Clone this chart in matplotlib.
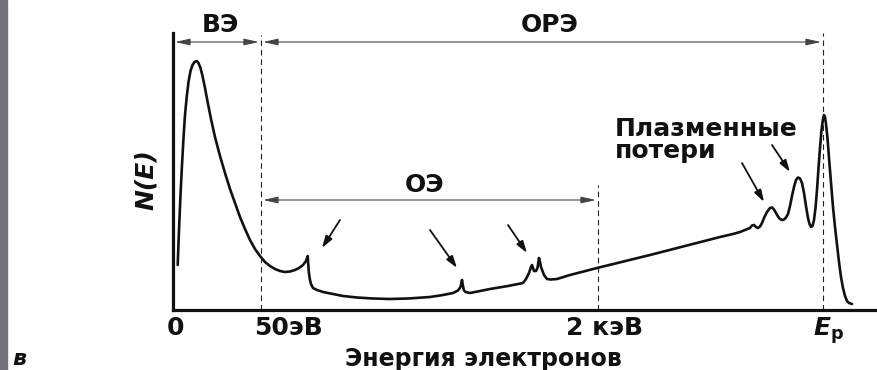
import matplotlib
matplotlib.use("Agg")
import matplotlib.pyplot as plt
from matplotlib.patches import Rectangle
from matplotlib.transforms import ScaledTranslation

plt.rcParams['font.family'] = ['DejaVu Sans']
plt.rcParams['mathtext.fontset'] = 'custom'
plt.rcParams['mathtext.it'] = 'DejaVu Sans:italic:bold'
plt.rcParams['mathtext.rm'] = 'DejaVu Sans:bold'

# ---- data (arbitrary units) ----
energy = [4.7, 6, 7.5, 9, 10.5, 12, 13.7, 15.5, 17.5, 19.5, 21.5, 23.7, 25.5, 27.5, 29.5,
          32, 35, 38, 42, 47, 52, 57, 62, 67, 72, 77, 82, 87, 92, 97, 102, 107, 112, 117,
          122, 126, 130, 133, 134.7, 135.2, 135.8, 136.8, 138, 140, 144, 150, 160, 170,
          184, 200, 217, 235, 257, 270, 280, 285, 287.5, 289, 289.8, 290.8, 292.5, 297,
          317, 335, 350, 353, 356, 358, 359, 360, 361, 363, 364.5, 366, 367, 368, 369.5,
          371, 374, 378, 384, 397, 424, 477, 547, 560, 567, 572, 577, 579, 581, 583, 585,
          587, 589, 591, 594, 597, 599, 601, 603, 605, 607, 609, 611, 613, 615, 617, 619,
          621, 623, 625, 627, 629, 631, 633, 635, 636.5, 638, 639.5, 641, 642.5, 644,
          645.5, 647, 648.5, 650, 651, 652, 653, 654.5, 656, 658, 660, 662, 664, 666, 668,
          670, 672, 674, 676, 679]
counts = [45, 80, 115, 145, 172, 195, 213, 228, 239, 245, 248, 249, 247, 242, 234,
          222, 206, 191, 173, 154, 137, 121, 107, 93, 81, 70, 61, 54, 48, 44, 41, 39, 38, 38.5,
          40, 42, 45, 49, 54, 47, 38, 31, 26, 22, 20, 18, 16, 14,
          12.5, 11.5, 11, 11.5, 13, 15, 17, 19.5, 23, 30, 25, 20, 18, 17,
          21, 24, 27, 31, 37, 43, 45, 42, 39, 39, 42, 52, 48, 43, 39,
          35, 31, 30.5, 31, 35, 42, 55, 73, 76, 78, 80, 82, 84.5, 85, 83, 82,
          83.5, 87, 92, 98, 102, 102.5, 100.5, 97, 93.5, 91, 90, 90.5, 92.5, 96, 104, 114,
          123, 130, 132.5, 131.5, 127, 117, 104, 92, 86, 83, 84, 90, 102, 120,
          142, 162, 180, 191, 195, 193, 186, 172, 152, 127, 103, 83, 65, 48, 33,
          22, 14, 9, 7, 6]

boundaries = [88, 425, 650]          # 50 eV, 2 keV, Ep
boundary_tops = [275, 125, 277]
tick_pos = [0, 88, 425, 650]
tick_labels = ['0', '50эВ', '2 кэВ', r'$E_{\mathrm{p}}$']
tick_shift_px = [2, 27, 6, 5]

regions = ['ВЭ', 'ОРЭ', 'ОЭ']
region_spans = [(2, 86), (90, 648), (90, 423)]
region_y = [268, 268, 110]
region_label_xy = [(47, 285), (377, 285), (252, 125)]

# annotation arrows: (start, end)
peak_arrows = [((167, 90), (149, 62)), ((257, 80), (284, 42)), ((335, 85), (354, 57)),
               ((569, 147), (591, 108)), ((599, 165), (617, 138))]

W, H = 877, 370
fig = plt.figure(figsize=(W / 100, H / 100), dpi=100)
fig.patch.set_facecolor('white')
fig.add_artist(Rectangle((0, 0), 7 / W, 1, transform=fig.transFigure,
                         color='#737076', zorder=0))

ax = fig.add_axes([173 / W, 60 / H, 704 / W, 277 / H])
ax.set_xlim(0, 704)
ax.set_ylim(0, 277)
for s in ['top', 'right']:
    ax.spines[s].set_visible(False)
for s in ['left', 'bottom']:
    ax.spines[s].set_linewidth(2.3)
    ax.spines[s].set_color('#111111')

ax.plot(energy, counts, color='#111111', lw=1.9, solid_joinstyle='round',
        solid_capstyle='round', zorder=3)

for xb, yt in zip(boundaries, boundary_tops):
    ax.plot([xb, xb], [0, yt], color='#222222', lw=0.8, ls=(0, (5, 3.5)), clip_on=False)

for name, (x0, x1), yy, (lx, ly) in zip(regions, region_spans, region_y, region_label_xy):
    ax.annotate('', xy=(x0, yy), xytext=(x1, yy), annotation_clip=False,
                arrowprops=dict(arrowstyle='<|-|>,head_length=0.9,head_width=0.2',
                                color='#444444', lw=0.8, shrinkA=0, shrinkB=0))
    ax.text(lx, ly, name, ha='center', va='center', fontsize=18, fontweight='bold',
            color='#111111', clip_on=False)

for (sx, sy), (ex, ey) in peak_arrows:
    ax.annotate('', xy=(ex, ey), xytext=(sx, sy),
                arrowprops=dict(arrowstyle='-|>,head_length=0.7,head_width=0.22',
                                color='#111111', lw=1.3, shrinkA=0, shrinkB=0))

ax.text(442, 193, 'Плазменные\nпотери', ha='left', va='top', fontsize=18,
        fontweight='bold', color='#111111', linespacing=0.9)

ax.set_yticks([])
ax.set_xticks(tick_pos)
ax.set_xticklabels(tick_labels, fontsize=18, fontweight='bold', color='#111111')
ax.tick_params(axis='x', length=0, pad=4)
for lab, dx in zip(ax.get_xticklabels(), tick_shift_px):
    lab.set_transform(lab.get_transform() + ScaledTranslation(dx / 100, 0, fig.dpi_scale_trans))

ax.set_xlabel('Энергия электронов', fontsize=17, fontweight='bold', color='#111111')
ax.xaxis.set_label_coords(310 / 704, -49 / 277)
ax.xaxis.label.set_va('center')

ax.set_ylabel('N(E)', fontsize=18, fontstyle='italic', fontweight='bold', color='#111111')
ax.yaxis.set_label_coords(-27 / 704, 130 / 277)
ax.yaxis.label.set_va('center')

fig.text(19 / W, 1 - 359 / H, 'в', fontsize=16, fontweight='bold', fontstyle='italic',
         ha='center', va='center', color='#111111')

fig.savefig('out.png', dpi=100)
